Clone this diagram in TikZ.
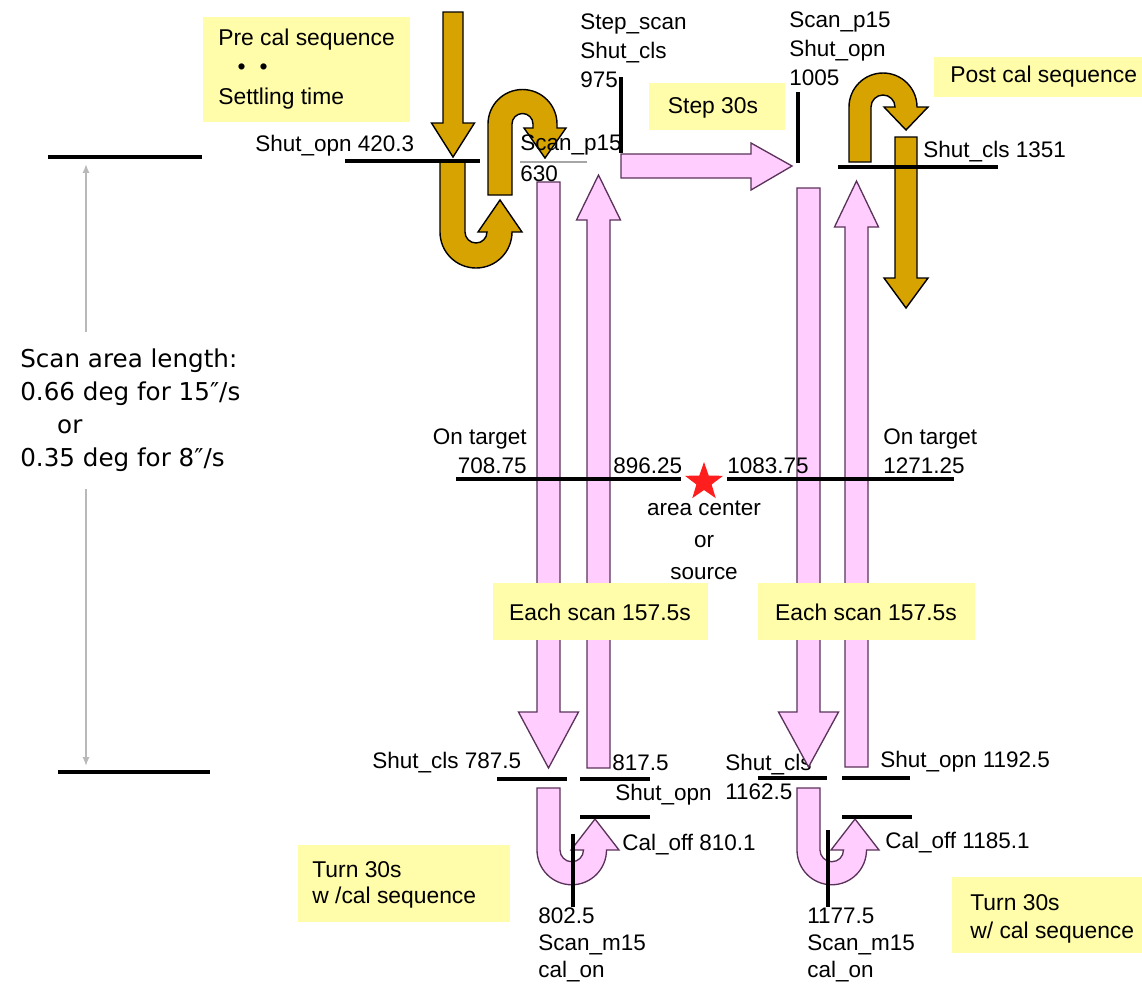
\documentclass[tikz,border=0pt]{standalone}
\usepackage{fontspec}
\setmainfont{Liberation Sans}
\newfontfamily\dejavu{DejaVu Sans}
\usetikzlibrary{shapes.geometric,arrows.meta}
\definecolor{goldc}{RGB}{214,163,0}
\definecolor{pinkc}{RGB}{255,206,255}
\definecolor{pinkline}{RGB}{90,50,90}
\definecolor{yelbox}{RGB}{255,252,170}
\definecolor{starred}{RGB}{255,30,30}
\begin{document}
\begin{tikzpicture}[x=0.02cm,y=-0.02cm,
  lbl/.style={font=\fontsize{12.8}{16.5}\selectfont, inner sep=0pt, align=left, anchor=west},
  boxtxt/.style={font=\fontsize{13}{16.5}\selectfont, inner sep=0pt, align=left, anchor=west},
  ybox/.style={fill=yelbox, draw=none},
  pinkarr/.style={fill=pinkc, draw=pinkline, line width=0.75pt, line join=miter},
  goldarr/.style={fill=goldc, draw=black, line width=0.8pt, line join=miter},
  tick/.style={line width=2pt, draw=black},
  dimline/.style={draw=gray!55, line width=1.2pt, -{Latex[length=5pt,width=4pt]}}
]
\useasboundingbox (0,0) rectangle (1142,985);
\fill[white] (0,0) rectangle (1142,985);

% yellow boxes (behind arrows)
\fill[ybox] (203,17) rectangle (410,122);
\fill[ybox] (649,83) rectangle (785,130);
\fill[ybox] (934,57) rectangle (1142,97);
\fill[ybox] (298,845) rectangle (510,922);
\fill[ybox] (952,877) rectangle (1142,953);

% box texts
\node[boxtxt, font=\fontsize{13}{16.8}\selectfont] (precal) at (218,69) {Pre cal sequence\\\hspace*{11pt}•\hspace{8pt}•\\Settling time};
\node[boxtxt, anchor=center] (step) at (713,108) {Step 30s};
\node[boxtxt] (postcal) at (950,77) {Post cal sequence};
\node[boxtxt, font=\fontsize{13}{14.8}\selectfont] (turnl) at (312,885) {Turn 30s\\w /cal sequence};
\node[boxtxt, font=\fontsize{13}{16}\selectfont] (turnr) at (970,919) {Turn 30s\\w/ cal sequence};

% left dimension
\draw[tick] (48,157) -- (202,157);
\draw[tick] (58,772) -- (210,772);
\node[font=\dejavu\fontsize{14}{18.8}\selectfont, align=left, anchor=west, inner sep=0pt] (scanarea) at (20,410)
  {Scan area length:\\0.66 deg for 15″/s\\\hspace*{21pt}or\\0.35 deg for 8″/s};
\coordinate (dimtop) at (86,164);
\coordinate (dimbot) at (86,766);
\coordinate (dimA) at (86,332);
\coordinate (dimB) at (86,489);
\draw[dimline] (dimA) -- (dimtop);
\draw[dimline] (dimB) -- (dimbot);

% labels drawn under arrows
\node[lbl] (sc1162) at (725,777) {Shut\_cls\\1162.5};

% pink arrows
\draw[pinkarr] (537,182) -- (560,182) -- (560,712) -- (578.5,712) -- (548.5,768) -- (518.5,712) -- (537,712) -- cycle;
\draw[pinkarr] (587,768) -- (587,220) -- (576.5,220) -- (598.5,175) -- (620.5,220) -- (610,220) -- (610,768) -- cycle;
\draw[pinkarr] (797,188) -- (820,188) -- (820,712) -- (838.5,712) -- (808.5,767) -- (778.5,712) -- (797,712) -- cycle;
\draw[pinkarr] (845,767) -- (845,227) -- (834.5,227) -- (856.5,181) -- (878.5,227) -- (868,227) -- (868,767) -- cycle;
\draw[pinkarr] (621,154) -- (751,154) -- (751,143) -- (792,166) -- (751,190) -- (751,178) -- (621,178) -- cycle;
% pink U turns
\draw[pinkarr] (537,788) -- (537,850) arc[start angle=180, end angle=0, radius=34.75]
  -- (619,850) -- (595,819) -- (571,850) -- (583.5,850) arc[start angle=0, end angle=180, radius=11.75]
  -- (560,788) -- cycle;
\draw[pinkarr] (797,788) -- (797,850) arc[start angle=180, end angle=0, radius=34.75]
  -- (879,850) -- (855,819) -- (831,850) -- (843.5,850) arc[start angle=0, end angle=180, radius=11.75]
  -- (820,788) -- cycle;

% "Each scan" boxes lie over the pink arrows
\fill[ybox] (493,583) rectangle (708,640);
\fill[ybox] (758,583) rectangle (975,640);
\node[boxtxt, anchor=center] (eachl) at (600,612) {Each scan 157.5s};
\node[boxtxt, anchor=center] (eachr) at (866,612) {Each scan 157.5s};

% gold arrows
\draw[goldarr] (443,12) -- (463,12) -- (463,123) -- (474.5,123) -- (453,157) -- (431.5,123) -- (443,123) -- cycle;
\draw[goldarr] (440,162) -- (440,232) arc[start angle=180, end angle=0, radius=36]
  -- (522,232) -- (500,200) -- (478,232) -- (487,232) arc[start angle=0, end angle=180, radius=11]
  -- (465,162) -- cycle;
\draw[goldarr] (488,195) -- (488,124) arc[start angle=180, end angle=360, radius=34.5]
  -- (557,128) -- (566,128) -- (545,158) -- (524,128) -- (533,128) -- (533,124)
  arc[start angle=0, end angle=-180, radius=10.5] -- (512,195) -- cycle;
\draw[goldarr] (849,162) -- (849,107) arc[start angle=180, end angle=360, radius=34]
  -- (928,107) -- (906,130) -- (884,107) -- (895,107) arc[start angle=0, end angle=-180, radius=12]
  -- (871,162) -- cycle;
\draw[goldarr] (895,137) -- (917,137) -- (917,278) -- (928,278) -- (906,308) -- (884,278) -- (895,278) -- cycle;

% black event lines
\draw[tick] (345,161) -- (480,161);
\draw[line width=1.2pt, draw=gray!70] (520,162) -- (587,162);
\draw[tick] (621,77) -- (621,153);
\draw[tick] (798,92) -- (798,163);
\draw[tick] (838,167) -- (998,167);
\draw[tick] (456,479) -- (681,479);
\draw[tick] (727,479) -- (954,479);
\draw[tick] (497,779) -- (567,779);
\draw[tick] (580,779) -- (650,779);
\draw[tick] (580,817) -- (650,817);
\draw[tick] (573,834) -- (573,907);
\draw[tick] (758,778) -- (827,778);
\draw[tick] (842,778) -- (910,778);
\draw[tick] (842,817) -- (912,817);
\draw[tick] (828,830) -- (828,907);

% star
\node[star, star points=5, star point ratio=2.5, fill=starred, draw=none, minimum size=0.8cm, inner sep=0pt] (star) at (704,482) {};

% labels
\node[lbl] (shutopn420) at (255,146) {Shut\_opn 420.3};
\node[lbl] (scanp15a) at (520,145) {Scan\_p15};
\node[lbl] (t630) at (520,174) {630};
\node[lbl] (stepscan) at (580,51) {Step\_scan\\Shut\_cls\\975};
\node[lbl] (scanp15b) at (789,49) {Scan\_p15\\Shut\_opn\\1005};
\node[lbl] (shutcls1351) at (923,152) {Shut\_cls 1351};
\node[lbl, align=right, anchor=east] (ontl) at (527,451) {On target\\708.75};
\node[lbl] (t896) at (613,466) {896.25};
\node[lbl] (t1083) at (727,466) {1083.75};
\node[lbl] (ontr) at (883,451) {On target\\1271.25};
\node[lbl, align=center, anchor=center, font=\fontsize{12.8}{18.2}\selectfont] (areac) at (704,540) {area center\\or\\source};
\node[lbl] (sc787) at (372,763) {Shut\_cls 787.5};
\node[lbl] (t817) at (612,763) {817.5};
\node[lbl] (so817) at (615,795) {Shut\_opn};
\node[lbl] (co810) at (622,845) {Cal\_off 810.1};
\node[lbl, font=\fontsize{12.8}{15.4}\selectfont] (m802) at (538,945) {802.5\\Scan\_m15\\cal\_on};
\node[lbl] (so1192) at (880,762) {Shut\_opn 1192.5};
\node[lbl] (co1185) at (885,843) {Cal\_off 1185.1};
\node[lbl, font=\fontsize{12.8}{15.4}\selectfont] (m1177) at (807,945) {1177.5\\Scan\_m15\\cal\_on};
\end{tikzpicture}
\end{document}
